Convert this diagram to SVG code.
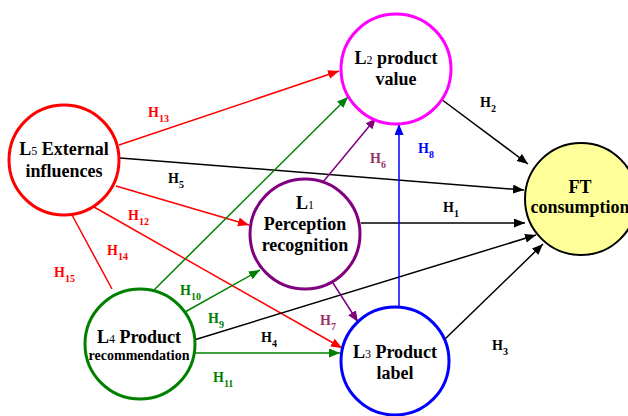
<svg xmlns="http://www.w3.org/2000/svg" width="628" height="416" viewBox="0 0 628 416" font-family="'Liberation Serif', 'Times New Roman', 'DejaVu Serif', serif">
<style>
text{font-family:'Liberation Serif','Times New Roman','DejaVu Serif',serif;font-weight:bold}
.n{fill:#fff;stroke-width:3}
.t{font-size:18px;text-anchor:middle;fill:#000}
.s{font-size:12px;font-weight:normal}
.h{font-size:14px}
.sub{font-size:10px}
.e{fill:none;stroke-width:1.5}
</style>
<defs>
<marker id="aR" markerUnits="userSpaceOnUse" markerWidth="12" markerHeight="10" refX="11" refY="4.5" orient="auto"><path d="M0,0 L11,4.5 L0,9 z" fill="#f00"/></marker>
<marker id="aK" markerUnits="userSpaceOnUse" markerWidth="12" markerHeight="10" refX="11" refY="4.5" orient="auto"><path d="M0,0 L11,4.5 L0,9 z" fill="#000"/></marker>
<marker id="aG" markerUnits="userSpaceOnUse" markerWidth="12" markerHeight="10" refX="11" refY="4.5" orient="auto"><path d="M0,0 L11,4.5 L0,9 z" fill="#008000"/></marker>
<marker id="aP" markerUnits="userSpaceOnUse" markerWidth="12" markerHeight="10" refX="11" refY="4.5" orient="auto"><path d="M0,0 L11,4.5 L0,9 z" fill="#800080"/></marker>
<marker id="aB" markerUnits="userSpaceOnUse" markerWidth="12" markerHeight="10" refX="11" refY="4.5" orient="auto"><path d="M0,0 L11,4.5 L0,9 z" fill="#00f"/></marker>
</defs>
<rect width="628" height="416" fill="#fff"/>
<g id="connectors">
<line class="e" stroke="#f00" x1="119" y1="145" x2="339" y2="71" marker-end="url(#aR)"/>
<line class="e" stroke="#000" x1="120" y1="158" x2="524" y2="190" marker-end="url(#aK)"/>
<line class="e" stroke="#f00" x1="116" y1="186" x2="249" y2="225" marker-end="url(#aR)"/>
<line class="e" stroke="#f00" x1="94" y1="207" x2="342" y2="348" marker-end="url(#aR)"/>
<line class="e" stroke="#f00" x1="72" y1="215" x2="112" y2="289"/>
<line class="e" stroke="#008000" x1="153" y1="291" x2="348" y2="97" marker-end="url(#aG)"/>
<line class="e" stroke="#008000" x1="185" y1="312" x2="260" y2="270" marker-end="url(#aG)"/>
<line class="e" stroke="#000" x1="194" y1="340" x2="536" y2="235" marker-end="url(#aK)"/>
<line class="e" stroke="#008000" x1="194" y1="353" x2="340" y2="353" marker-end="url(#aG)"/>
<line class="e" stroke="#800080" x1="323" y1="182" x2="376" y2="118" marker-end="url(#aP)"/>
<line class="e" stroke="#800080" x1="333" y1="283" x2="358" y2="322" marker-end="url(#aP)"/>
<line class="e" stroke="#000" x1="361" y1="223" x2="525" y2="223" marker-end="url(#aK)"/>
<line class="e" stroke="#000" x1="441" y1="99" x2="528" y2="164" marker-end="url(#aK)"/>
<line class="e" stroke="#000" x1="445" y1="339" x2="543" y2="244" marker-end="url(#aK)"/>
<line class="e" stroke="#00f" x1="399" y1="307" x2="399" y2="124" marker-end="url(#aB)"/>
</g>
<g id="labels">
<text class="h" fill="#f00" x="148" y="117">H<tspan class="sub" dy="5">13</tspan></text>
<text class="h" fill="#000" x="168" y="183">H<tspan class="sub" dy="5">5</tspan></text>
<text class="h" fill="#f00" x="128" y="220">H<tspan class="sub" dy="5">12</tspan></text>
<text class="h" fill="#f00" x="107" y="255">H<tspan class="sub" dy="5">14</tspan></text>
<text class="h" fill="#f00" x="54" y="277">H<tspan class="sub" dy="5">15</tspan></text>
<text class="h" fill="#008000" x="180" y="295">H<tspan class="sub" dy="5">10</tspan></text>
<text class="h" fill="#008000" x="208" y="323">H<tspan class="sub" dy="5">9</tspan></text>
<text class="h" fill="#000" x="261" y="342">H<tspan class="sub" dy="5">4</tspan></text>
<text class="h" fill="#993366" x="320" y="325">H<tspan class="sub" dy="5">7</tspan></text>
<text class="h" fill="#008000" x="213" y="382">H<tspan class="sub" dy="5">11</tspan></text>
<text class="h" fill="#993366" x="370" y="163">H<tspan class="sub" dy="5">6</tspan></text>
<text class="h" fill="#00f" x="418" y="153">H<tspan class="sub" dy="5">8</tspan></text>
<text class="h" fill="#000" x="480" y="107">H<tspan class="sub" dy="5">2</tspan></text>
<text class="h" fill="#000" x="443" y="212">H<tspan class="sub" dy="5">1</tspan></text>
<text class="h" fill="#000" x="492" y="350">H<tspan class="sub" dy="5">3</tspan></text>
</g>
<g id="L5">
<circle class="n" cx="64" cy="160" r="55" stroke="#f00"/>
<text class="t" x="64" y="155">L<tspan class="s">5</tspan> External</text>
<text class="t" x="64" y="177">influences</text>
</g>
<g id="L2">
<circle class="n" cx="396" cy="69" r="55" stroke="#f0f"/>
<text class="t" x="396" y="64">L<tspan class="s">2</tspan> product</text>
<text class="t" x="396" y="85">value</text>
</g>
<g id="L1">
<circle class="n" cx="305" cy="234" r="55" stroke="#800080"/>
<text class="t" x="305" y="209">L<tspan class="s">1</tspan></text>
<text class="t" x="305" y="230">Perception</text>
<text class="t" x="305" y="251">recognition</text>
</g>
<g id="L4">
<circle class="n" cx="140" cy="344" r="55" stroke="#008000"/>
<text class="t" x="139" y="343">L<tspan class="s">4</tspan> Product</text>
<text class="t" x="139" y="360" style="font-size:14px">recommendation</text>
</g>
<g id="L3">
<circle class="n" cx="395" cy="361" r="54" stroke="#00f"/>
<text class="t" x="395" y="358">L<tspan class="s">3</tspan> Product</text>
<text class="t" x="395" y="379">label</text>
</g>
<g id="FT">
<circle cx="581" cy="199" r="56" fill="#ffff99" stroke="#000" stroke-width="2"/>
<text class="t" x="580" y="193">FT</text>
<text class="t" x="580" y="213">consumption</text>
</g>
</svg>
